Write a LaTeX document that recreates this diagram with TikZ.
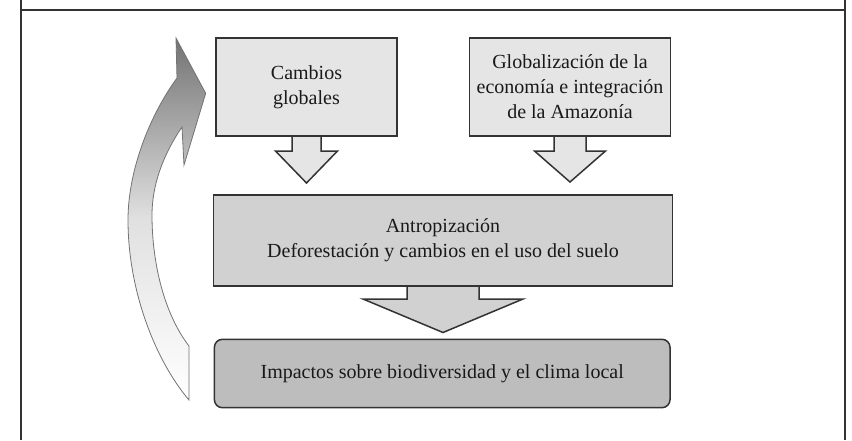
\documentclass[tikz,border=0pt]{standalone}
\usepackage{fontspec}
\setmainfont{Liberation Serif}
\usetikzlibrary{backgrounds}

\begin{document}
\begin{tikzpicture}[x=0.5pt, y=-0.5pt,
      box/.style={draw=black!80, line width=0.75pt, inner sep=0pt, outer sep=0pt,
                  align=center, text=black!90, font=\fontsize{10}{12.5}\selectfont},
      blockarrow/.style={draw=black!80, line width=0.75pt, line join=miter}]
      \useasboundingbox (0,0) rectangle (852,440);
      %\draw [dotted] (0,0) grid[step=50] (852,440);
      % frame
      \draw [black!80, line width=0.6pt] (21,0) -- (21,440);
      \draw [black!80, line width=0.6pt] (845,0) -- (845,440);
      \draw [black!80, line width=0.6pt] (21,10) -- (845,10);
      % boxes
      \node [box, fill=black!10, minimum width=90.5pt, minimum height=49pt]  (cambios) at (306.5,  87.0) {Cambios\\globales};
      \node [box, fill=black!10, minimum width=100.7pt, minimum height=49pt] (global)  at (570.0,  87.0) {Globalización de la\\economía e integración\\de la Amazonía};
      \node [box, fill=black!18, minimum width=229.7pt, minimum height=45.5pt] (antrop) at (443.0, 240.5) {Antropización\\Deforestación y cambios en el uso del suelo};
      \node [box, fill=black!26, minimum width=227.8pt, minimum height=34.2pt, rounded corners=4pt] (impact) at (442.2, 373.5) {Impactos sobre biodiversidad y el clima local};
      % block arrows
      \begin{scope}[on background layer]
      \filldraw [blockarrow, fill=black!10] (cambios.south) ++(-14.5,0) -- ++(0,15) -- ++(-16.5,0) -- ++(31,32) -- ++(31,-32) -- ++(-16.5,0) -- ++(0,-15);
      \filldraw [blockarrow, fill=black!10] (global.south) ++(-16,0) -- ++(0,15) -- ++(-19.5,0) -- ++(35.5,31) -- ++(35.5,-31) -- ++(-19.5,0) -- ++(0,-15);
      \filldraw [blockarrow, fill=black!18] (antrop.south) ++(-36,0) -- ++(0,13) -- ++(-44,0) -- ++(80,33.5) -- ++(80,-33.5) -- ++(-44,0) -- ++(0,-13);
      \end{scope}
      % curved arrow back up
      \coordinate (tailout) at (189,400);
      \coordinate (tailin)  at (189,346);
      \coordinate (headout) at (177,78);
      \coordinate (headin)  at (182,127);
      \coordinate (tip)     at (176,38);
      \shadedraw [draw=black!55, line width=0.4pt, top color=black!55, bottom color=white, middle color=black!12]
            (tailout) .. controls (155,360) and (128,290) .. (128,220)
                      .. controls (128,170) and (150,115) .. (headout)
                      -- (tip) -- (205.7,93.3) -- (184,165) -- (headin)
                      .. controls (163,155) and (152,185) .. (152,215)
                      .. controls (152,265) and (165,315) .. (tailin) -- cycle;
\end{tikzpicture}
\end{document}
